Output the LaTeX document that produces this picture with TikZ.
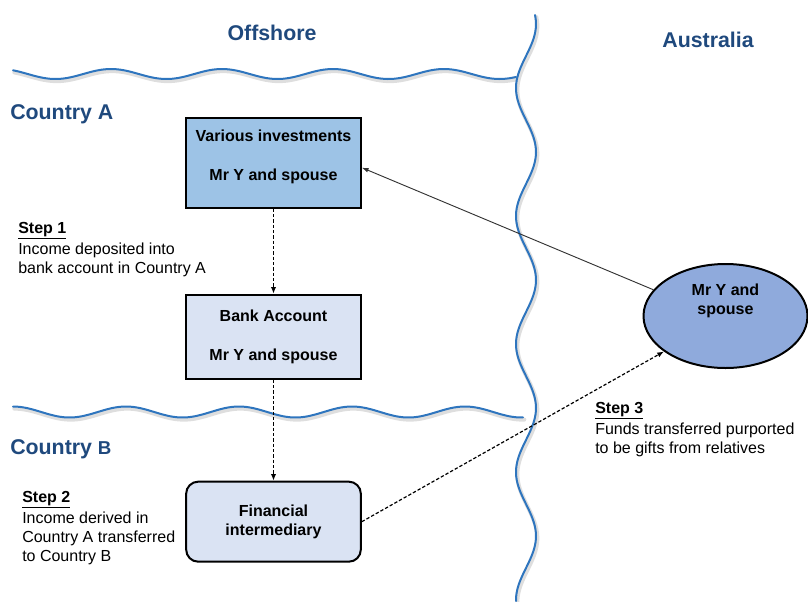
\documentclass[tikz,border=0pt]{standalone}
\usepackage{fontspec}
\setmainfont{Liberation Sans}
\usepackage{tikz}
\usetikzlibrary{
    shapes.geometric,
    arrows.meta,
    positioning
}
\definecolor{Wblue}{RGB}{46, 117, 190}
\definecolor{Hblue}{RGB}{31, 73, 125}
\definecolor{Bmid}{RGB}{157, 195, 230}
\definecolor{Blight}{RGB}{218, 227, 243}
\definecolor{Boval}{RGB}{143, 170, 220}
\tikzset{
    wave/.style={draw=Wblue, line width=1.5pt, line cap=round},
    wshadow/.style={draw=black!13, line width=3pt, line cap=round, xshift=1pt, yshift=-1.6pt},
    head/.style={
        text=Hblue, inner sep=0pt,
        font=\fontsize{16pt}{19pt}\selectfont\bfseries
    },
    bbox/.style={
        rectangle, draw=black, line width=1.5pt, fill=Blight,
        minimum width=131pt, minimum height=63pt, inner sep=0pt,
        align=center, font=\fontsize{12pt}{14pt}\selectfont\bfseries
    },
    oval/.style={
        ellipse, draw=black, line width=1.5pt, fill=Boval,
        minimum width=123pt, minimum height=78pt, inner sep=0pt,
        align=center, font=\fontsize{12pt}{14.2pt}\selectfont\bfseries
    },
    steptext/.style={
        anchor=north west, inner sep=0pt, align=left,
        font=\fontsize{12pt}{14.3pt}\selectfont
    },
    dasharr/.style={-{Latex[length=5pt, width=4pt]}, line width=0.9pt, dash pattern=on 2.5pt off 1.5pt},
    solarr/.style={-{Latex[length=5pt, width=3.5pt]}, line width=0.7pt, draw=black!80},
}
\newcommand{\stephead}[1]{\underline{\textbf{#1}}\\[1.2pt]}

\begin{document}
\begin{tikzpicture}[x=0.75pt, y=-0.75pt]
    \useasboundingbox (0,0) rectangle (808,601);

    \draw[wshadow] plot[domain=13:516, samples=150] (\x, {74 - 5*cos(3.2432*(\x-111))});
    \draw[wshadow] plot[domain=13:523, samples=150] (\x, {412 - 5.5*cos(3.1858*(\x-13))});
    \draw[wshadow] plot[domain=15:601, samples=180] ({526 - 10*cos(2.8125*(\x-88))}, \x);
    \draw[wave] plot[domain=13:516, samples=150] (\x, {74 - 5*cos(3.2432*(\x-111))});
    \draw[wave] plot[domain=13:523, samples=150] (\x, {412 - 5.5*cos(3.1858*(\x-13))});
    \draw[wave] plot[domain=15:601, samples=180] ({526 - 10*cos(2.8125*(\x-88))}, \x);

    \node[head] (offshore) at (272,33) {Offshore};
    \node[head] (aus) at (708,40) {Australia};
    \node[head, anchor=west] (ctya) at (10,114) {Country A};
    \node[head, anchor=west] (ctyb) at (10,449) {Country {\fontsize{14pt}{17pt}\selectfont B}};

    \node[bbox, fill=Bmid, minimum height=67pt, text depth=11.5pt]
        (inv) at (273.5,163) {Various investments\\[15.25pt]Mr Y and spouse};
    \node[bbox, below=63.75pt of inv]
        (bank) {Bank Account\\[15.25pt]Mr Y and spouse};
    \node[bbox, rounded corners=9pt, minimum height=60pt, below=75.75pt of bank]
        (fin) {Financial\\intermediary};
    \node[oval, text depth=25pt]
        (own) at (725.5,316) {Mr Y and\\spouse};

    \node[steptext] (step1) at (18,222) {\stephead{Step 1}Income deposited into\\bank account in Country A};
    \node[steptext] (step2) at (22,491) {\stephead{Step 2}Income derived in\\Country A transferred\\to Country B};
    \node[steptext] (step3) at (595,402) {\stephead{Step 3}Funds transferred purported\\to be gifts from relatives};

    \draw[dasharr] (inv) -- (bank);
    \draw[dasharr] (bank) -- (fin);
    \draw[solarr] (own.160) -- ([yshift=-3.5pt]inv.east);
    \draw[dasharr] (fin.east) -- (own.210);

\end{tikzpicture}
\end{document}
